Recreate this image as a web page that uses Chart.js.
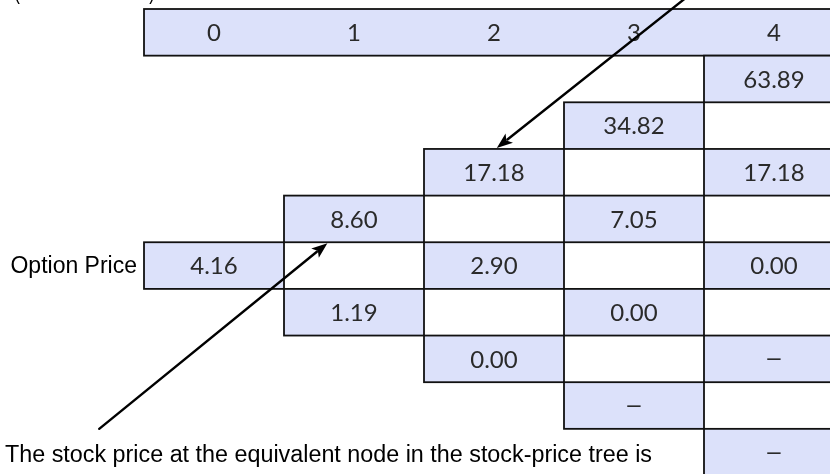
<!DOCTYPE html>
<html>
<head>
<meta charset="utf-8">
<script src="https://cdn.jsdelivr.net/npm/chart.js@4.4.0/dist/chart.umd.min.js"></script>
<style>
  html, body { margin: 0; padding: 0; background: #fff; overflow: hidden; }
  #wrap { width: 830px; height: 474px; position: relative; }
</style>
</head>
<body>
<div id="wrap"><canvas id="tree"></canvas></div>
<script>
// time steps shown in the header row
const steps = ['0', '1', '2', '3', '4'];

// option values at each step, top node first (null = no value, shown as a dash)
const step0 = [4.16];
const step1 = [8.60, 1.19];
const step2 = [17.18, 2.90, 0.00];
const step3 = [34.82, 7.05, 0.00, null];
const step4 = [63.89, 17.18, 0.00, null, null];

const rowLabel = 'Option Price';
const topNote = '(Strike Price = 21)';
const bottomNote = 'The stock price at the equivalent node in the stock-price tree is';

// arrows, in column / row units: [tailX, tailY, tipX, tipY]
const arrowTop = [4.03, -0.62, 2.52, 2.98];
const arrowBottom = [-0.32, 9.0, 1.31, 5.02];

const FILL = '#dce1fa';
const LINE = '#111';
const NUM_FONT = '24px Lato, "Open Sans", sans-serif';
const DASH_FONT = '24px "Liberation Sans", Arial, sans-serif';
const LABEL_FONT = '23px "Liberation Sans", Arial, sans-serif';
const NOTE_FONT = '23px "Liberation Sans", Arial, sans-serif';

const tree = [step0, step1, step2, step3, step4];
const midRow = tree.length; // row index of the root node (header is row 0)

// one point per node, at the centre of its cell
const nodes = [];
tree.forEach((vals, c) => {
    vals.forEach((v, i) => {
        const row = midRow - c + 2 * i;
        nodes.push({ x: c + 0.5, y: row + 0.5, v: v });
    });
});

// text fitted to a given width (horizontal scale only)
const fitText = (ctx, text, x, y, width) => {
    const w = ctx.measureText(text).width;
    ctx.save();
    ctx.translate(x, y);
    ctx.scale(width / w, 1);
    ctx.fillText(text, 0, 0);
    ctx.restore();
};

const drawArrow = (ctx, xs, ys, a) => {
    const x0 = xs.getPixelForValue(a[0]), y0 = ys.getPixelForValue(a[1]);
    const x1 = xs.getPixelForValue(a[2]), y1 = ys.getPixelForValue(a[3]);
    const ang = Math.atan2(y1 - y0, x1 - x0);
    const head = 17, spread = 0.36;
    ctx.save();
    ctx.strokeStyle = '#000';
    ctx.fillStyle = '#000';
    ctx.lineWidth = 2.4;
    ctx.lineCap = 'round';
    ctx.beginPath();
    ctx.moveTo(x0, y0);
    ctx.lineTo(x1 - Math.cos(ang) * head * 0.8, y1 - Math.sin(ang) * head * 0.8);
    ctx.stroke();
    ctx.beginPath();
    ctx.moveTo(x1, y1);
    ctx.lineTo(x1 - head * Math.cos(ang - spread), y1 - head * Math.sin(ang - spread));
    ctx.lineTo(x1 - head * 0.72 * Math.cos(ang), y1 - head * 0.72 * Math.sin(ang));
    ctx.lineTo(x1 - head * Math.cos(ang + spread), y1 - head * Math.sin(ang + spread));
    ctx.closePath();
    ctx.fill();
    ctx.restore();
};

const treePlugin = {
    id: 'treePlugin',
    afterDatasetsDraw(chart) {
        const ctx = chart.ctx;
        const xs = chart.scales.x, ys = chart.scales.y;
        const px = (v) => xs.getPixelForValue(v);
        const py = (v) => ys.getPixelForValue(v);

        ctx.save();
        ctx.lineWidth = 1.8;
        ctx.strokeStyle = LINE;

        // header row
        ctx.fillStyle = FILL;
        ctx.fillRect(px(0), py(0), px(steps.length + 1) - px(0), py(1) - py(0));
        ctx.strokeRect(px(0), py(0), px(steps.length + 1) - px(0), py(1) - py(0));

        // node cells
        nodes.forEach((n) => {
            const l = px(n.x - 0.5), r = px(n.x + 0.5);
            const t = py(n.y - 0.5), b = py(n.y + 0.5);
            ctx.fillStyle = FILL;
            ctx.fillRect(l, t, r - l, b - t);
        });
        nodes.forEach((n) => {
            const l = px(n.x - 0.5), r = px(n.x + 0.5);
            const t = py(n.y - 0.5), b = py(n.y + 0.5);
            ctx.strokeRect(l, t, r - l, b - t);
        });

        // texts
        ctx.fillStyle = '#2a2a2a';
        ctx.textAlign = 'center';
        ctx.textBaseline = 'middle';
        ctx.font = NUM_FONT;
        steps.forEach((s, c) => ctx.fillText(s, px(c + 0.5), py(0.5) + 1));
        nodes.forEach((n) => {
            if (n.v === null) {
                ctx.font = DASH_FONT;
                ctx.fillText('\u2013', px(n.x), py(n.y));
            } else {
                ctx.font = NUM_FONT;
                ctx.fillText(n.v.toFixed(2), px(n.x), py(n.y) + 1);
            }
        });

        ctx.fillStyle = '#000';
        ctx.font = LABEL_FONT;
        ctx.textAlign = 'right';
        ctx.fillText(rowLabel, px(0) - 7, py(midRow + 0.5) + 1);

        ctx.textAlign = 'left';
        ctx.textBaseline = 'alphabetic';
        ctx.fillText(topNote, 14, -1, 141);
        ctx.font = NOTE_FONT;
        fitText(ctx, bottomNote, 5, 462, 647);
        ctx.restore();

        drawArrow(ctx, xs, ys, arrowTop);
        drawArrow(ctx, xs, ys, arrowBottom);
    }
};

new Chart(document.getElementById('tree'), {
    type: 'scatter',
    data: {
        datasets: [{
            data: nodes,
            pointRadius: 0,
            showLine: false
        }]
    },
    options: {
        responsive: true,
        maintainAspectRatio: false,
        animation: false,
        layout: { padding: 0 },
        plugins: {
            legend: { display: false },
            tooltip: { enabled: false }
        },
        scales: {
            x: { type: 'linear', min: -1.0286, max: 4.9, display: false },
            y: { type: 'linear', reverse: true, min: -0.193, max: 9.968, display: false }
        }
    },
    plugins: [treePlugin]
});
</script>
</body>
</html>
